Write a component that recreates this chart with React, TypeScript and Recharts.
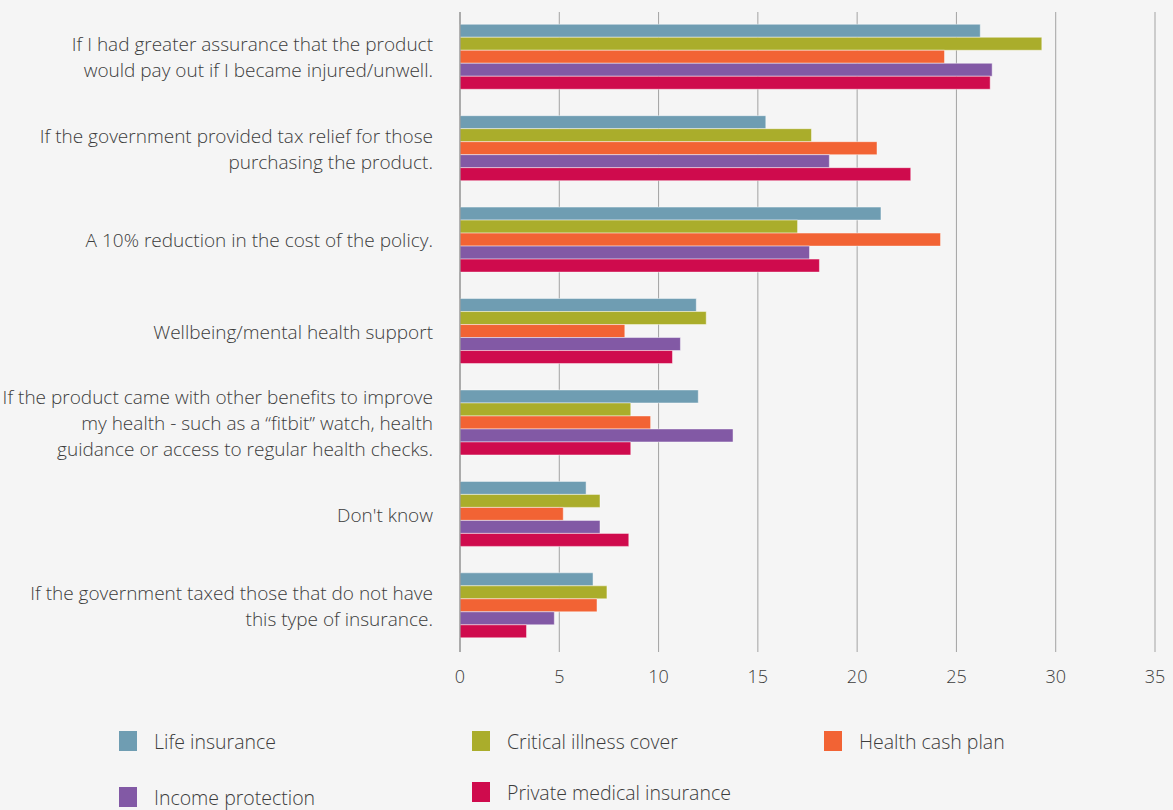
import { BarChart, Bar, XAxis, YAxis, CartesianGrid } from "recharts";

const categories = [
  "If I had greater assurance that the product\nwould pay out if I became injured/unwell.",
  "If the government provided tax relief for those\npurchasing the product.",
  "A 10% reduction in the cost of the policy.",
  "Wellbeing/mental health support",
  "If the product came with other benefits to improve\nmy health - such as a \u201cfitbit\u201d watch, health\nguidance or access to regular health checks.",
  "Don't know",
  "If the government taxed those that do not have\nthis type of insurance.",
];

const lifeInsurance = [26.2, 15.4, 21.2, 11.9, 12.0, 6.35, 6.7];
const criticalIllness = [29.3, 17.7, 17.0, 12.4, 8.6, 7.05, 7.4];
const healthCashPlan = [24.4, 21.0, 24.2, 8.3, 9.6, 5.2, 6.9];
const incomeProtection = [26.8, 18.6, 17.6, 11.1, 13.75, 7.05, 4.75];
const privateMedical = [26.7, 22.7, 18.1, 10.7, 8.6, 8.5, 3.35];

const xTicks = [0, 5, 10, 15, 20, 25, 30, 35];

const series = [
  { key: "life", name: "Life insurance", color: "#6f9db2", values: lifeInsurance },
  { key: "critical", name: "Critical illness cover", color: "#aaad2b", values: criticalIllness },
  { key: "health", name: "Health cash plan", color: "#f26334", values: healthCashPlan },
  { key: "income", name: "Income protection", color: "#8259a5", values: incomeProtection },
  { key: "pmi", name: "Private medical insurance", color: "#cf0b4d", values: privateMedical },
];

const data = categories.map((label, i) => {
  const row: Record<string, string | number> = { label };
  series.forEach((s) => {
    row[s.key] = s.values[i];
  });
  return row;
});

const FONT = "'Open Sans', Lato, sans-serif";

function CategoryTick(props: any) {
  const { x, y, payload } = props;
  const lines = String(payload.value).split("\n");
  const lh = 26;
  const start = y - ((lines.length - 1) * lh) / 2;
  return (
    <text
      x={x}
      y={start}
      textAnchor="end"
      fontFamily={FONT}
      fontWeight={300}
      fontSize={19}
      fill="#3c3c3c"
    >
      {lines.map((line, i) => (
        <tspan key={i} x={x} y={start + i * lh} dy="0.35em">
          {line}
        </tspan>
      ))}
    </text>
  );
}

const legendItems = [
  { s: series[0], left: 119, top: 731 },
  { s: series[1], left: 472, top: 731 },
  { s: series[2], left: 824, top: 731 },
  { s: series[3], left: 119, top: 787 },
  { s: series[4], left: 472, top: 782 },
];

export default function App() {
  if (typeof document !== "undefined") document.body.style.margin = "0";
  return (
    <div style={{ position: "relative", width: 1173, height: 810, background: "#f5f5f5", overflow: "hidden" }}>
      <BarChart
        layout="vertical"
        width={1173}
        height={700}
        data={data}
        margin={{ top: 12, right: 18, bottom: 8, left: 0 }}
        barCategoryGap="13.4%"
        barGap={0}
      >
        <CartesianGrid horizontal={false} stroke="#a3a3a3" />
        <XAxis
          type="number"
          domain={[0, 35]}
          ticks={xTicks}
          interval={0}
          height={40}
          axisLine={false}
          tickLine={false}
          tickSize={0}
          tickMargin={18}
          tick={{ fontFamily: FONT, fontWeight: 300, fontSize: 18, fill: "#3c3c3c" }}
        />
        <YAxis
          type="category"
          dataKey="label"
          width={460}
          axisLine={{ stroke: "#8a8a8a" }}
          tickLine={false}
          tickSize={0}
          tickMargin={27}
          interval={0}
          tick={<CategoryTick />}
        />
        {series.map((s) => (
          <Bar
            key={s.key}
            dataKey={s.key}
            name={s.name}
            fill={s.color}
            stroke="rgba(255,255,255,0.45)"
            strokeWidth={1}
            isAnimationActive={false}
          />
        ))}
      </BarChart>
      {legendItems.map(({ s, left, top }) => (
        <div
          key={s.key}
          style={{
            position: "absolute",
            left,
            top,
            height: 20,
            display: "flex",
            alignItems: "center",
            fontFamily: FONT,
            fontWeight: 300,
            fontSize: 19.5,
            color: "#3c3c3c",
            whiteSpace: "nowrap",
          }}
        >
          <div style={{ width: 18, height: 20, background: s.color, marginRight: 17 }} />
          <span>{s.name}</span>
        </div>
      ))}
    </div>
  );
}
